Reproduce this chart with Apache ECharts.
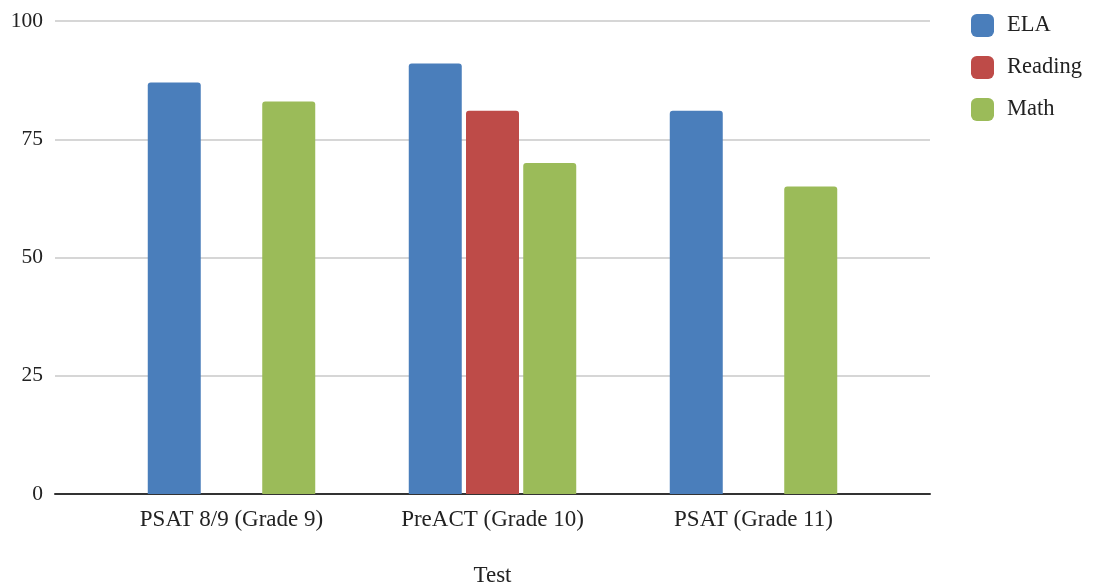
<!DOCTYPE html>
<html><head><meta charset="utf-8">
<script src="https://cdn.jsdelivr.net/npm/echarts@6/dist/echarts.min.js"></script>
<style>html,body{margin:0;padding:0;background:#fff}#c{width:1095px;height:582px}</style>
</head><body><div id="c"></div>
<script>
const categories = ['PSAT 8/9 (Grade 9)', 'PreACT (Grade 10)', 'PSAT (Grade 11)'];
const ela = [87, 91, 81];
const reading = [null, 81, null];
const math = [83, 70, 65];
const yTicks = [0, 25, 50, 75, 100];
const seriesNames = ['ELA', 'Reading', 'Math'];
const colors = ['#4a7ebb', '#be4b48', '#9bbb59'];

const font = 'Liberation Serif';
const chart = echarts.init(document.getElementById('c'));
const bar = (name, data, color) => ({
  name, type: 'bar', data, xAxisIndex: 0, yAxisIndex: 0,
  barWidth: 53, barGap: '8%',
  itemStyle: { color, borderRadius: [3, 3, 0, 0] }
});
chart.setOption({
  animation: false,
  textStyle: { fontFamily: font },
  legend: {
    orient: 'vertical', left: 966, top: 9, itemWidth: 23, itemHeight: 23, itemGap: 19,
    icon: 'roundRect',
    textStyle: { fontFamily: font, fontSize: 22.5, color: '#222', padding: [0, 0, 0, 8] },
    data: seriesNames
  },
  grid: [
    { left: 101, right: 211, top: 21, bottom: 88, outerBoundsMode: 'none', containLabel: false },
    { left: 55, right: 165, top: 21, bottom: 88, outerBoundsMode: 'none', containLabel: false }
  ],
  xAxis: [
    { type: 'category', gridIndex: 0, data: categories,
      axisLine: { show: false }, axisTick: { show: false },
      axisLabel: { fontFamily: font, fontSize: 23, color: '#222', margin: 14 },
      name: 'Test', nameLocation: 'middle', nameGap: 70,
      nameTextStyle: { fontFamily: font, fontSize: 23, color: '#222' } },
    { type: 'value', gridIndex: 1, min: 0, max: 1, show: true,
      axisLine: { show: true, onZero: false, lineStyle: { color: '#333', width: 2 } },
      axisTick: { show: false }, axisLabel: { show: false }, splitLine: { show: false } }
  ],
  yAxis: [
    { type: 'value', gridIndex: 0, min: yTicks[0], max: yTicks[yTicks.length - 1], interval: 25, show: false },
    { type: 'value', gridIndex: 1, min: yTicks[0], max: yTicks[yTicks.length - 1], interval: 25,
      axisLine: { show: false }, axisTick: { show: false },
      axisLabel: { fontFamily: font, fontSize: 21.5, color: '#222', margin: 12 },
      splitLine: { lineStyle: { color: '#c8c8c8', width: 1.5 } } }
  ],
  series: [
    bar('ELA', ela, colors[0]),
    bar('Reading', reading, colors[1]),
    bar('Math', math, colors[2])
  ]
});
</script></body></html>
